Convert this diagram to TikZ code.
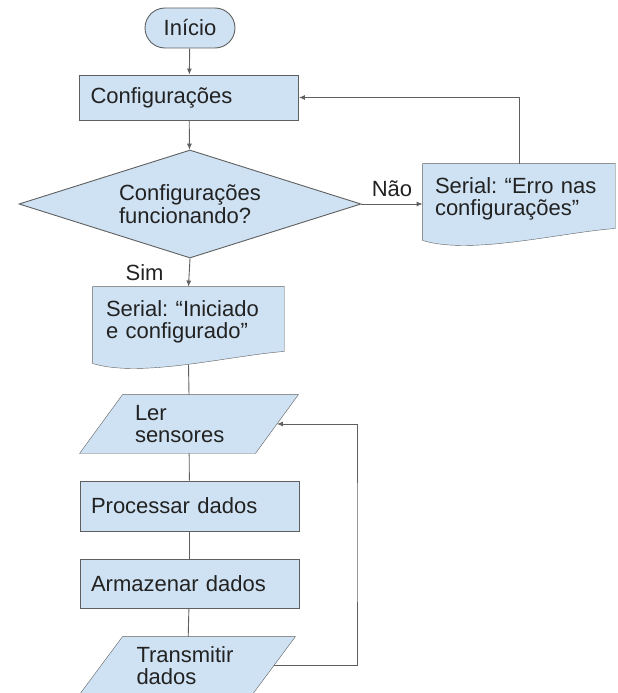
\documentclass[tikz,border=0pt]{standalone}
\usepackage{fontspec}
\setmainfont{Liberation Sans}
\frenchspacing
\usetikzlibrary{shapes.geometric,arrows.meta,backgrounds,calc}
\definecolor{azulcaixa}{HTML}{CFE2F3}
\definecolor{cinzaborda}{HTML}{5F5F5F}
\definecolor{cinzatexto}{HTML}{222222}

\begin{document}
\begin{tikzpicture}[x=1pt, y=-1pt, line width=0.9pt,
	every node/.style = {font=\fontsize{22}{22.5}\selectfont, text=cinzatexto},
	forma/.style = {draw=cinzaborda, fill=azulcaixa},
	inicio/.style = {forma, rectangle, rounded corners=20pt, minimum width=90pt, minimum height=40pt},
	caixa/.style = {forma, rectangle, align=left, text width=197pt, inner xsep=11pt, inner ysep=0pt},
	decisao/.style = {forma, diamond, aspect=3.2, align=left, inner sep=0pt, minimum width=342pt, minimum height=108pt},
	documento/.style = {rectangle, align=left, text width=168pt, inner xsep=12pt, inner ysep=0pt, minimum height=70pt},
	dados/.style = {rectangle, align=left, inner ysep=0pt},
	seta/.style = {draw=cinzaborda, -{Latex[length=6pt,width=5pt]}},
	linha/.style = {draw=cinzaborda}]
	\useasboundingbox (0,0) rectangle (618,693);

	\node[inicio] (inicio) at (190,28) {Início};
	\node[caixa, minimum height=45pt] (config) at (189,97.5) {Configurações};
	\node[decisao] (teste) at (190,204) {Configurações\\funcionando?};
	\node[documento] (erro) at (519,199) {Serial: “Erro nas\\configurações”};
	\node[documento, text width=165pt, inner xsep=13pt] (iniciado) at (188.5,322) {Serial: “Iniciado\\e configurado”};
	\node[dados, minimum width=175pt, minimum height=58pt, text width=108pt, inner xsep=33.5pt] (ler) at (189,424) {Ler\\sensores};
	\node[caixa, minimum height=50pt] (processar) at (189.5,506) {Processar dados};
	\node[caixa, minimum height=49pt] (armazenar) at (189.5,583.5) {Armazenar dados};
	\node[dados, minimum width=172pt, minimum height=57pt, text width=102pt, inner xsep=35pt] (transmitir) at (187.5,665.5) {Transmitir\\dados};
	\coordinate (retorno) at (357,540);

	\begin{scope}[on background layer]
		\foreach \n in {ler,transmitir}
			\filldraw[forma] ($(\n.north west)+(21.5,0)$) -- ($(\n.north east)+(21.5,0)$)
				-- ($(\n.south east)+(-21.5,0)$) -- ($(\n.south west)+(-21.5,0)$) -- cycle;
		\foreach \n in {iniciado,erro}
			\filldraw[forma] (\n.north west) -- (\n.north east) -- ($(\n.south east)+(0,-6)$)
				.. controls ($(\n.south)+(42,-2)$) and ($(\n.south)+(-48,21)$) .. ($(\n.south west)+(0,6)$) -- cycle;
	\end{scope}

	\draw[seta] (inicio) -- (config);
	\draw[seta] (config) -- (teste);
	\draw[seta] (teste.east) -- node[above=4pt] {Não} (teste.east -| erro.west);
	\draw[seta] (erro.north) |- (config.east);
	\draw[seta] (teste.south) -- node[left=22pt] {Sim} (iniciado.north);
	\draw[linha] ($(iniciado.south)+(0,7)$) -- (ler.north);
	\draw[linha] (ler) -- (processar);
	\draw[linha] (processar) -- (armazenar);
	\draw[linha] (armazenar) -- (transmitir);
	\draw[seta] (transmitir.east) -| (retorno) |- (ler.east);
\end{tikzpicture}
\end{document}
